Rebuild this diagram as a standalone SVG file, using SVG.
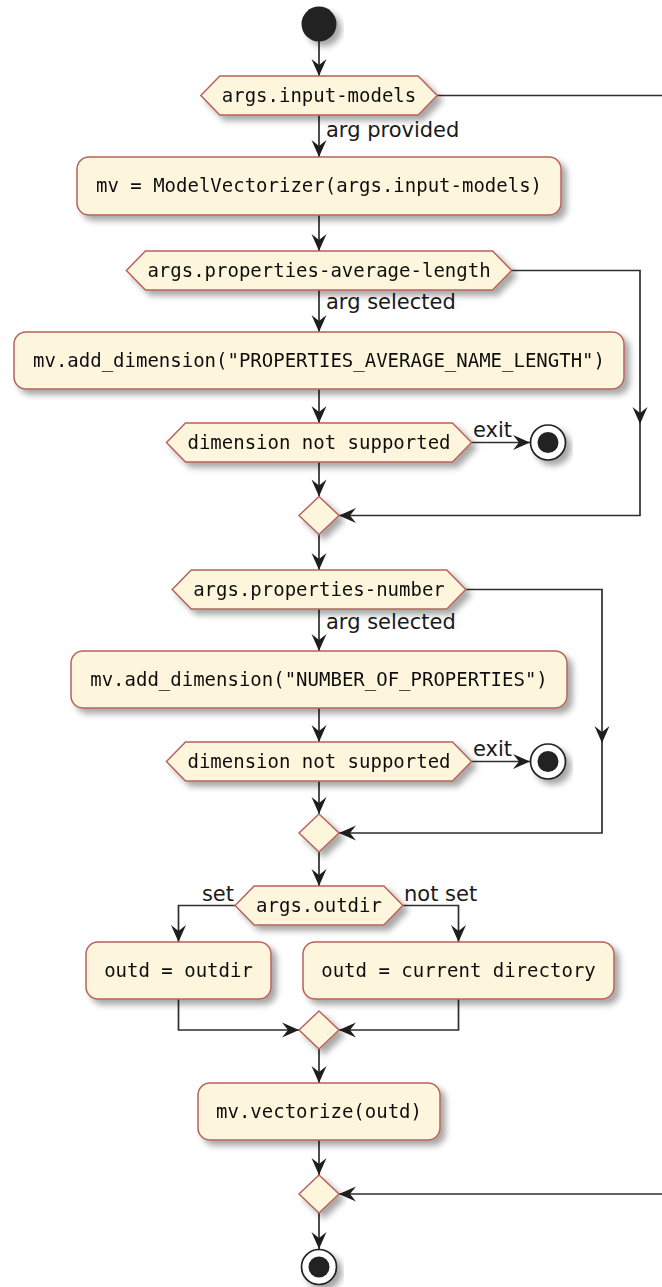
<svg xmlns="http://www.w3.org/2000/svg" width="662" height="1287" viewBox="0 0 662 1287">
  <defs>
    <filter id="shadow" x="-10%" y="-20%" width="130%" height="160%">
      <feGaussianBlur in="SourceAlpha" stdDeviation="3"/>
      <feOffset dx="5" dy="5" result="blur"/>
      <feComponentTransfer><feFuncA type="linear" slope="0.35"/></feComponentTransfer>
      <feMerge><feMergeNode/><feMergeNode in="SourceGraphic"/></feMerge>
    </filter>
    <marker id="arrow" viewBox="-18 -9 19 18" refX="0" refY="0" markerWidth="19" markerHeight="18" markerUnits="userSpaceOnUse" orient="auto">
      <path d="M0,0 L-17,-7.5 L-11,0 L-17,7.5 Z" fill="#1E1E1E"/>
    </marker>
  </defs>
  <style>
    .node { fill: #FEF5DD; stroke: #B8625C; stroke-width: 1.5; }
    .code { font-family: "DejaVu Sans Mono", "Liberation Mono", monospace; font-size: 19px; fill: #111111; text-anchor: middle; }
    .label { font-family: "DejaVu Sans", "Liberation Sans", sans-serif; font-size: 21px; fill: #1A1A1A; }
    .edge { fill: none; stroke: #2E2E2E; stroke-width: 1.7; }
    .start { fill: #222222; }
    .ring { fill: #FFFFFF; stroke: #222222; stroke-width: 1.7; }
  </style>
  <rect width="662" height="1287" fill="#FFFFFF"/>

  <!-- connectors -->
  <g id="connectors">
    <path class="edge" d="M319,41 L319,76" marker-end="url(#arrow)"/>
    <path class="edge" d="M437.2,95.5 L670,95.5"/>
    <path class="edge" d="M319,115 L319,157" marker-end="url(#arrow)"/>
    <text class="label" x="326" y="137">arg provided</text>
    <path class="edge" d="M319,215 L319,251" marker-end="url(#arrow)"/>
    <path class="edge" d="M511.6,270.5 L640,270.5 L640,424" marker-end="url(#arrow)"/>
    <path class="edge" d="M640,424 L640,515.5 L339,515.5" marker-end="url(#arrow)"/>
    <path class="edge" d="M319,290 L319,332" marker-end="url(#arrow)"/>
    <text class="label" x="326" y="309">arg selected</text>
    <path class="edge" d="M319,389 L319,423" marker-end="url(#arrow)"/>
    <path class="edge" d="M471.5,442.5 L530,442.5" marker-end="url(#arrow)"/>
    <text class="label" x="473" y="437">exit</text>
    <path class="edge" d="M319,462 L319,496.5" marker-end="url(#arrow)"/>
    <path class="edge" d="M319,534.5 L319,570" marker-end="url(#arrow)"/>
    <path class="edge" d="M465.8,589.5 L602,589.5 L602,743" marker-end="url(#arrow)"/>
    <path class="edge" d="M602,743 L602,833 L339,833" marker-end="url(#arrow)"/>
    <path class="edge" d="M319,609 L319,651" marker-end="url(#arrow)"/>
    <text class="label" x="326" y="629">arg selected</text>
    <path class="edge" d="M319,708 L319,742" marker-end="url(#arrow)"/>
    <path class="edge" d="M471.5,761.5 L530,761.5" marker-end="url(#arrow)"/>
    <text class="label" x="473" y="756">exit</text>
    <path class="edge" d="M319,781 L319,814" marker-end="url(#arrow)"/>
    <path class="edge" d="M319,852 L319,886" marker-end="url(#arrow)"/>
    <path class="edge" d="M235.1,905.5 L178.5,905.5 L178.5,942" marker-end="url(#arrow)"/>
    <text class="label" x="234" y="901" text-anchor="end">set</text>
    <path class="edge" d="M402.9,905.5 L458.5,905.5 L458.5,942" marker-end="url(#arrow)"/>
    <text class="label" x="404" y="901">not set</text>
    <path class="edge" d="M178.5,999 L178.5,1030 L299,1030" marker-end="url(#arrow)"/>
    <path class="edge" d="M458.5,999 L458.5,1030 L339,1030" marker-end="url(#arrow)"/>
    <path class="edge" d="M319,1049 L319,1083" marker-end="url(#arrow)"/>
    <path class="edge" d="M319,1140 L319,1175" marker-end="url(#arrow)"/>
    <path class="edge" d="M670,1194 L339,1194" marker-end="url(#arrow)"/>
    <path class="edge" d="M319,1213 L319,1249" marker-end="url(#arrow)"/>
  </g>

  <!-- start -->
  <g id="start" filter="url(#shadow)">
    <circle class="start" cx="319" cy="24" r="17.5"/>
  </g>

  <!-- input models check -->
  <g id="if-input-models" filter="url(#shadow)">
    <polygon class="node" points="200.8,95.5 219.8,76 418.2,76 437.2,95.5 418.2,115 219.8,115"/>
    <text class="code" x="319" y="102">args.input-models</text>
  </g>

  <g id="create-vectorizer" filter="url(#shadow)">
    <rect class="node" x="77" y="157" width="484" height="58" rx="12"/>
    <text class="code" x="319" y="192">mv = ModelVectorizer(args.input-models)</text>
  </g>

  <!-- average length dimension -->
  <g id="if-average-length" filter="url(#shadow)">
    <polygon class="node" points="126.4,270.5 145.4,251 492.6,251 511.6,270.5 492.6,290 145.4,290"/>
    <text class="code" x="319" y="277">args.properties-average-length</text>
  </g>

  <g id="add-average-length" filter="url(#shadow)">
    <rect class="node" x="14" y="332" width="610" height="57" rx="12"/>
    <text class="code" x="319" y="367">mv.add_dimension("PROPERTIES_AVERAGE_NAME_LENGTH")</text>
  </g>

  <g id="if-unsupported-1" filter="url(#shadow)">
    <polygon class="node" points="166.5,442.5 185.5,423 452.5,423 471.5,442.5 452.5,462 185.5,462"/>
    <text class="code" x="319" y="449">dimension not supported</text>
  </g>

  <g id="stop-1" filter="url(#shadow)">
    <circle class="ring" cx="548" cy="442.5" r="17.5"/>
    <circle class="start" cx="548" cy="442.5" r="10.5"/>
  </g>

  <g id="merge-1" filter="url(#shadow)">
    <polygon class="node" points="299,515.5 319,496.5 339,515.5 319,534.5"/>
  </g>

  <!-- properties number dimension -->
  <g id="if-properties-number" filter="url(#shadow)">
    <polygon class="node" points="172.2,589.5 191.2,570 446.8,570 465.8,589.5 446.8,609 191.2,609"/>
    <text class="code" x="319" y="596">args.properties-number</text>
  </g>

  <g id="add-number" filter="url(#shadow)">
    <rect class="node" x="71" y="651" width="496" height="57" rx="12"/>
    <text class="code" x="319" y="686">mv.add_dimension("NUMBER_OF_PROPERTIES")</text>
  </g>

  <g id="if-unsupported-2" filter="url(#shadow)">
    <polygon class="node" points="166.5,761.5 185.5,742 452.5,742 471.5,761.5 452.5,781 185.5,781"/>
    <text class="code" x="319" y="768">dimension not supported</text>
  </g>

  <g id="stop-2" filter="url(#shadow)">
    <circle class="ring" cx="548" cy="761.5" r="17.5"/>
    <circle class="start" cx="548" cy="761.5" r="10.5"/>
  </g>

  <g id="merge-2" filter="url(#shadow)">
    <polygon class="node" points="299,833 319,814 339,833 319,852"/>
  </g>

  <!-- output directory -->
  <g id="if-outdir" filter="url(#shadow)">
    <polygon class="node" points="235.1,905.5 254.1,886 383.9,886 402.9,905.5 383.9,925 254.1,925"/>
    <text class="code" x="319" y="912">args.outdir</text>
  </g>

  <g id="outd-outdir" filter="url(#shadow)">
    <rect class="node" x="86" y="942" width="185" height="57" rx="12"/>
    <text class="code" x="178.5" y="977">outd = outdir</text>
  </g>

  <g id="outd-current" filter="url(#shadow)">
    <rect class="node" x="303" y="942" width="311" height="57" rx="12"/>
    <text class="code" x="458.5" y="977">outd = current directory</text>
  </g>

  <g id="merge-3" filter="url(#shadow)">
    <polygon class="node" points="299,1030 319,1011 339,1030 319,1049"/>
  </g>

  <g id="vectorize" filter="url(#shadow)">
    <rect class="node" x="198" y="1083" width="242" height="57" rx="12"/>
    <text class="code" x="319" y="1118">mv.vectorize(outd)</text>
  </g>

  <g id="merge-4" filter="url(#shadow)">
    <polygon class="node" points="299,1194 319,1175 339,1194 319,1213"/>
  </g>

  <g id="stop-end" filter="url(#shadow)">
    <circle class="ring" cx="319" cy="1267" r="17.5"/>
    <circle class="start" cx="319" cy="1267" r="10.5"/>
  </g>
</svg>
